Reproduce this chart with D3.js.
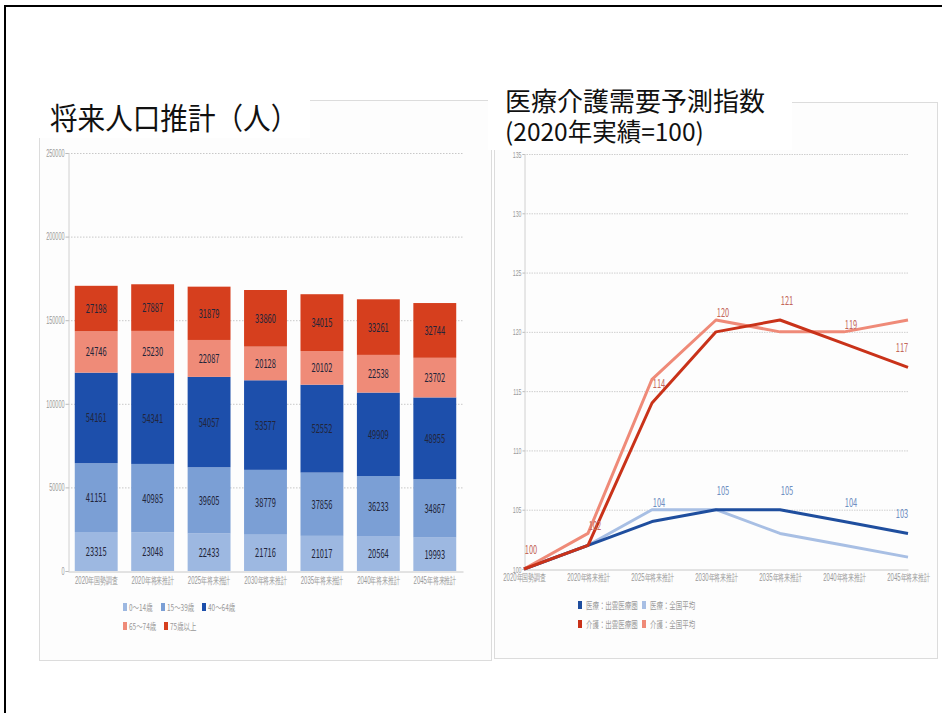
<!DOCTYPE html>
<html><head><meta charset="utf-8">
<script src="https://cdn.jsdelivr.net/npm/d3@7"></script>
<style>
body{margin:0;background:#fff;}
svg{display:block;font-family:"Noto Sans CJK JP","Noto Sans",sans-serif;}
</style></head>
<body><svg id="c" width="942" height="713"></svg>
<script>
// ---------- data ----------
const categories = ["2020年国勢調査","2020年将来推計","2025年将来推計","2030年将来推計","2035年将来推計","2040年将来推計","2045年将来推計"];
const ageGroups = ["0～14歳","15～39歳","40～64歳","65～74歳","75歳以上"];
const age0_14  = [23315,23048,22433,21716,21017,20564,19993];
const age15_39 = [41151,40985,39605,38779,37856,36233,34867];
const age40_64 = [54161,54341,54057,53577,52552,49909,48955];
const age65_74 = [24746,25230,22087,20128,20102,22538,23702];
const age75up  = [27198,27887,31879,33860,34015,33261,32744];
const popTicks = [0,50000,100000,150000,200000,250000];
const ageColors = ["#9db8e1","#7b9fd5","#1d4fab","#ef8b78","#d63f1e"];

const seriesNames = ["医療：出雲医療圏","医療：全国平均","介護：出雲医療圏","介護：全国平均"];
const medIzumo  = [100,102,104,105,105,104,103];
const medNation = [100,102,105,105,103,102,101];
const careIzumo = [100,102,114,120,121,119,117];
const careNation= [100,103,116,121,120,120,121];
const indexTicks = [100,105,110,115,120,125,130,135];
const seriesColors = ["#1f4e9e","#a8bfe4","#c93219","#ef8a78"];

const svg = d3.select("#c");
// horizontally squeeze texts (the reference's small texts are narrow)
function condense(sel, f){
  sel.each(function(){
    const x = +(this.getAttribute("x")||0), y = +(this.getAttribute("y")||0);
    this.setAttribute("x",0); this.setAttribute("y",0);
    this.setAttribute("transform",`translate(${x},${y}) scale(${f},1)`);
  });
}

// ---------- frames ----------
svg.append("rect").attr("x",5).attr("y",6).attr("width",960).attr("height",730)
  .attr("fill","none").attr("stroke","#000").attr("stroke-width",2);
svg.append("rect").attr("x",39.5).attr("y",100.5).attr("width",452).attr("height",560)
  .attr("fill","#fdfdfd").attr("stroke","#dcdcdc");
svg.append("rect").attr("x",494.5).attr("y",102.5).attr("width",443).attr("height",556)
  .attr("fill","#fdfdfd").attr("stroke","#dcdcdc");
// title backgrounds
svg.append("rect").attr("x",30).attr("y",88).attr("width",280).attr("height",50).attr("fill","#fff");
svg.append("rect").attr("x",488).attr("y",78).attr("width",304).attr("height",72).attr("fill","#fff");
const t1 = svg.append("text").attr("x",50).attr("y",129).attr("font-size",30).attr("fill","#111").text("将来人口推計（人）");
condense(t1,0.92);
svg.append("text").attr("x",505).attr("y",111).attr("font-size",26).attr("fill","#111").text("医療介護需要予測指数");
svg.append("text").attr("x",505).attr("y",141).attr("font-size",24.5).attr("fill","#111").text("(2020年実績=100)");

// ---------- left: stacked bars ----------
const L = svg.append("g");
const x1 = d3.scaleBand().domain(categories).range([68,463]).paddingInner(0.24).paddingOuter(0.12);
const y1 = d3.scaleLinear().domain([0,250000]).range([571,153]);
const ageData = [age0_14,age15_39,age40_64,age65_74,age75up];
const rows = categories.map((c,i)=>{ const r={cat:c}; ageGroups.forEach((g,k)=>r[g]=ageData[k][i]); return r; });
const stacked = d3.stack().keys(ageGroups)(rows);

// grid
L.append("g").selectAll("line").data(popTicks.slice(1)).join("line")
  .attr("x1",68).attr("x2",463).attr("y1",d=>y1(d)+0.5).attr("y2",d=>y1(d)+0.5)
  .attr("stroke","#c8c8c8").attr("stroke-dasharray","1.5,1.5");
// y axis
const yAx1 = L.append("g").attr("transform","translate(68.5,0)")
  .call(d3.axisLeft(y1).tickValues(popTicks).tickFormat(d3.format("d")).tickSize(3));
yAx1.select(".domain").attr("stroke","#d0d0d0");
yAx1.selectAll(".tick line").attr("stroke","#bbb");
yAx1.selectAll("text").attr("font-size",10).attr("fill","#999").attr("x",-4);
// bars
L.append("g").selectAll("g").data(stacked).join("g").attr("fill",(d,i)=>ageColors[i])
  .selectAll("rect").data(d=>d).join("rect")
  .attr("x",d=>x1(d.data.cat)).attr("width",x1.bandwidth())
  .attr("y",d=>y1(d[1])).attr("height",d=>y1(d[0])-y1(d[1]));
// labels
const lbl1 = L.append("g").selectAll("g").data(stacked).join("g")
  .selectAll("text").data(d=>d.map(v=>({v,val:v[1]-v[0]}))).join("text")
  .attr("x",d=>x1(d.v.data.cat)+x1.bandwidth()/2).attr("y",d=>(y1(d.v[0])+y1(d.v[1]))/2+4.5)
  .attr("text-anchor","middle").attr("font-size",12.5).attr("fill","#22253a").text(d=>d.val);
// x axis
const xAx1 = L.append("g").attr("transform","translate(0,571.5)")
  .call(d3.axisBottom(x1).tickSize(0));
xAx1.select(".domain").attr("stroke","#c8c8c8");
xAx1.selectAll("text").attr("font-size",10).attr("fill","#999").attr("y",12).attr("dy",null);
// legend
const leg1Pos = [[123,607],[161,607],[202,607],[123,626],[164,626]];
const leg1 = L.append("g").selectAll("g").data(ageGroups).join("g")
  .attr("transform",(d,i)=>`translate(${leg1Pos[i][0]},${leg1Pos[i][1]})`);
leg1.append("rect").attr("x",0).attr("y",-4).attr("width",4).attr("height",8).attr("fill",(d,i)=>ageColors[i]);
leg1.append("text").attr("x",6).attr("y",3.5).attr("font-size",9.5).attr("fill","#999").text(d=>d);

// ---------- right: line chart ----------
const R = svg.append("g");
const x2 = d3.scalePoint().domain(categories).range([524,908]);
const y2 = d3.scaleLinear().domain([100,135]).range([569,154]);
R.append("g").selectAll("line").data(indexTicks.slice(1)).join("line")
  .attr("x1",524).attr("x2",908).attr("y1",d=>y2(d)+0.5).attr("y2",d=>y2(d)+0.5)
  .attr("stroke","#cfcfcf").attr("stroke-dasharray","1.5,1");
const yAx2 = R.append("g").attr("transform","translate(524.5,0)")
  .call(d3.axisLeft(y2).tickValues(indexTicks).tickSize(2));
yAx2.select(".domain").attr("stroke","#d0d0d0");
yAx2.selectAll(".tick line").attr("stroke","#bbb");
yAx2.selectAll("text").attr("font-size",9.5).attr("fill","#999").attr("x",-3);
const xAx2 = R.append("g").attr("transform","translate(0,569.5)")
  .call(d3.axisBottom(x2).tickSize(0));
xAx2.select(".domain").attr("stroke","#c8c8c8");
xAx2.selectAll("text").attr("font-size",10).attr("fill","#999").attr("y",11).attr("dy",null);

const seriesVals = [medIzumo,medNation,careIzumo,careNation];
const line = d3.line().x((d,i)=>x2(categories[i])).y(d=>y2(d));
const drawOrder = [1,0,3,2];
R.append("g").selectAll("path").data(drawOrder).join("path")
  .attr("d",k=>line(seriesVals[k])).attr("fill","none")
  .attr("stroke",k=>seriesColors[k]).attr("stroke-width",3).attr("stroke-linejoin","round");
// data labels for 出雲 series (first two points shared by both series)
const labelSets = [{vals:medIzumo,color:"#6f8fc2",from:2},{vals:careIzumo,color:"#c4685c",from:0}];
const lbl2 = R.append("g").selectAll("g").data(labelSets).join("g").attr("fill",d=>d.color)
  .selectAll("text").data(d=>d.vals.map((v,i)=>({v,i})).filter(e=>e.i>=d.from)).join("text")
  .attr("x",d=>x2(categories[d.i])+(d.i===categories.length-1?-6:7))
  .attr("y",d=>y2(d.v)-15).attr("text-anchor","middle").attr("font-size",12.5).text(d=>d.v);
// legend
const leg2Pos = [[578,605],[642,605],[578,624],[642,624]];
const leg2 = R.append("g").selectAll("g").data(seriesNames).join("g")
  .attr("transform",(d,i)=>`translate(${leg2Pos[i][0]},${leg2Pos[i][1]})`);
leg2.append("rect").attr("x",0).attr("y",-4).attr("width",4).attr("height",8).attr("fill",(d,i)=>seriesColors[i]);
leg2.append("text").attr("x",8).attr("y",3.5).attr("font-size",9.5).attr("fill","#999").text(d=>d);

// condensed look of the small texts
condense(yAx1.selectAll("text"),0.55);
condense(yAx2.selectAll("text"),0.55);
condense(xAx1.selectAll("text"),0.6);
condense(xAx2.selectAll("text"),0.6);
condense(lbl1,0.6);
condense(lbl2,0.6);
condense(leg1.selectAll("text"),0.68);
condense(leg2.selectAll("text"),0.68);
</script></body></html>
